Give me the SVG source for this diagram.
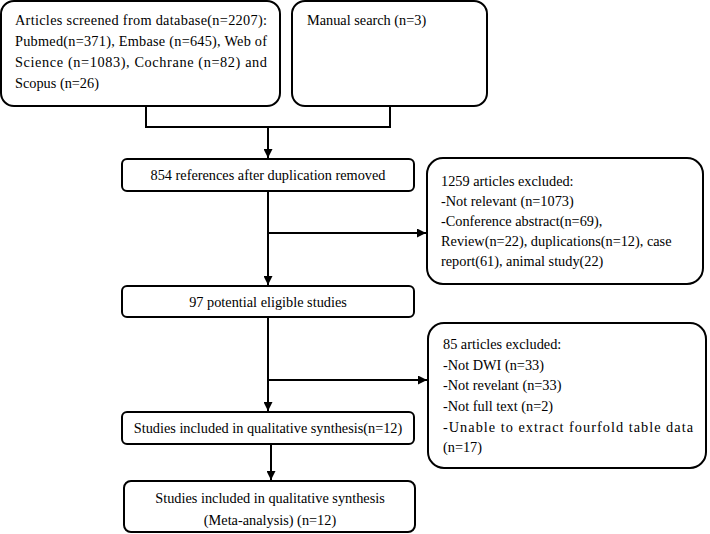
<svg xmlns="http://www.w3.org/2000/svg" width="710" height="534" viewBox="0 0 710 534">
<style>
.box{fill:#fff;stroke:#000;stroke-width:2}
.t{font-family:"Liberation Serif","Times New Roman",serif;font-size:14.3px;fill:#000}
.c{text-anchor:middle}
.ln{fill:none;stroke:#000;stroke-width:2}
</style>
<defs>
<marker id="ah" viewBox="0 0 10 10" refX="10" refY="5" markerWidth="9" markerHeight="9" markerUnits="userSpaceOnUse" orient="auto">
<path d="M0,0 L10,5 L0,10 Z" fill="#000"/>
</marker>
</defs>
<rect width="710" height="534" fill="#fff"/>
<g id="connectors">
<path class="ln" d="M146,106 V127 H390 V106"/>
<path class="ln" d="M268,127 V158" marker-end="url(#ah)"/>
<path class="ln" d="M268,191 V285" marker-end="url(#ah)"/>
<path class="ln" d="M268,233 H426" marker-end="url(#ah)"/>
<path class="ln" d="M268,317 V411" marker-end="url(#ah)"/>
<path class="ln" d="M268,380 H427" marker-end="url(#ah)"/>
<path class="ln" d="M271,444 V480" marker-end="url(#ah)"/>
</g>
<g id="db">
<rect class="box" x="1" y="1" width="279" height="105" rx="13"/>
<text class="t" x="15" y="25" textLength="252" lengthAdjust="spacing">Articles screened from database(n=2207):</text>
<text class="t" x="15" y="46" textLength="252" lengthAdjust="spacing">Pubmed(n=371), Embase (n=645), Web of</text>
<text class="t" x="15" y="67" textLength="252" lengthAdjust="spacing">Science (n=1083), Cochrane (n=82) and</text>
<text class="t" x="15" y="88">Scopus (n=26)</text>
</g>
<g id="manual">
<rect class="box" x="292" y="1" width="195" height="105" rx="13"/>
<text class="t" x="307" y="25">Manual search (n=3)</text>
</g>
<g id="dedup">
<rect class="box" x="122" y="159" width="292" height="32" rx="5"/>
<text class="t c" x="268" y="180">854 references after duplication removed</text>
</g>
<g id="excl1">
<rect class="box" x="427" y="158" width="276" height="126" rx="16"/>
<text class="t" x="441" y="186">1259 articles excluded:</text>
<text class="t" x="441" y="206">-Not relevant (n=1073)</text>
<text class="t" x="441" y="226">-Conference abstract(n=69),</text>
<text class="t" x="441" y="246">Review(n=22), duplications(n=12), case</text>
<text class="t" x="441" y="266">report(61), animal study(22)</text>
</g>
<g id="eligible">
<rect class="box" x="122" y="286" width="292" height="31" rx="5"/>
<text class="t c" x="268" y="307">97 potential eligible studies</text>
</g>
<g id="excl2">
<rect class="box" x="428" y="323" width="278" height="145" rx="16"/>
<text class="t" x="443" y="349">85 articles excluded:</text>
<text class="t" x="443" y="370">-Not DWI (n=33)</text>
<text class="t" x="443" y="390">-Not revelant (n=33)</text>
<text class="t" x="443" y="411">-Not full text (n=2)</text>
<text class="t" x="443" y="432" textLength="250" lengthAdjust="spacing">-Unable to extract fourfold table data</text>
<text class="t" x="443" y="452">(n=17)</text>
</g>
<g id="qual">
<rect class="box" x="122" y="412" width="292" height="32" rx="5"/>
<text class="t c" x="268" y="433">Studies included in qualitative synthesis(n=12)</text>
</g>
<g id="meta">
<rect class="box" x="124" y="481" width="291" height="51" rx="7"/>
<text class="t c" x="270" y="503">Studies included in qualitative synthesis</text>
<text class="t c" x="270" y="525">(Meta-analysis) (n=12)</text>
</g>
</svg>
